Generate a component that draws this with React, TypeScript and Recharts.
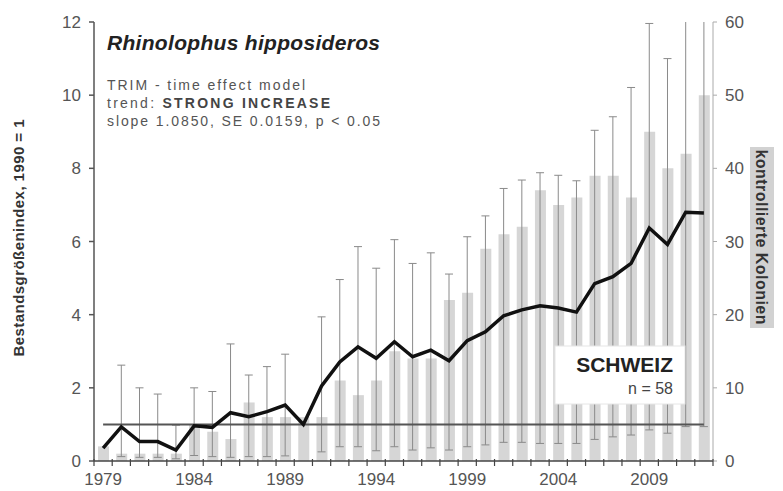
import {
  Bar,
  ComposedChart,
  ErrorBar,
  Line,
  ReferenceLine,
  XAxis,
  YAxis,
} from 'recharts';

// Jahre der Zählreihe
const years = [
  '1979', '1980', '1981', '1982', '1983', '1984', '1985', '1986', '1987', '1988',
  '1989', '1990', '1991', '1992', '1993', '1994', '1995', '1996', '1997', '1998',
  '1999', '2000', '2001', '2002', '2003', '2004', '2005', '2006', '2007', '2008',
  '2009', '2010', '2011', '2012',
];

// TRIM Bestandsgrößenindex (1990 = 1)
const indexValues = [
  0.35, 0.93, 0.53, 0.53, 0.3, 0.96, 0.92, 1.32, 1.21, 1.35,
  1.53, 1.0, 2.05, 2.71, 3.12, 2.81, 3.26, 2.85, 3.03, 2.74,
  3.29, 3.53, 3.97, 4.13, 4.24, 4.18, 4.07, 4.85, 5.04, 5.4,
  6.37, 5.92, 6.8, 6.78,
];

// Vertrauensgrenzen des Index (null = keine Angabe)
const indexLower = [
  null, 0.12, 0.1, 0.1, 0.06, 0.15, 0.12, 0.1, 0.12, 0.12,
  0.14, null, 0.25, 0.39, 0.39, 0.28, 0.39, 0.3, 0.36, 0.3,
  0.39, 0.44, 0.51, 0.51, 0.48, 0.48, 0.48, 0.59, 0.66, 0.71,
  0.85, 0.76, 0.94, 0.94,
];
const indexUpper = [
  null, 2.62, 2.0, 1.83, 0.98, 2.0, 1.9, 3.2, 2.35, 2.58,
  2.92, null, 3.94, 4.96, 5.86, 5.27, 6.05, 5.4, 5.69, 5.11,
  6.13, 6.7, 7.45, 7.68, 7.88, 7.81, 7.66, 9.04, 9.41, 10.21,
  11.96, 11.0, 13.5, 14.0,
];

// Anzahl kontrollierte Kolonien
const colonies = [
  2, 1, 1, 1, 1, 5, 4, 3, 8, 6,
  6, 6, 6, 11, 9, 11, 15, 14, 14, 22,
  23, 29, 31, 32, 37, 35, 36, 39, 39, 36,
  45, 40, 42, 50,
];

const labelledYears = ['1979', '1984', '1989', '1994', '1999', '2004', '2009'];
const indexTicks = [0, 2, 4, 6, 8, 10, 12];
const colonyTicks = [0, 10, 20, 30, 40, 50, 60];

const data = years.map((year, i) => {
  const lo = indexLower[i];
  const hi = indexUpper[i];
  return {
    year,
    index: indexValues[i],
    colonies: colonies[i],
    err: lo == null || hi == null ? null : [indexValues[i] - lo, hi - indexValues[i]],
  };
});

const FONT = '"Liberation Sans", Arial, sans-serif';
const TICK_SIZE = 5;
const TICK_GAP = 2;
const PLOT_TOP = 22;

function YearTick(props: any) {
  const { x, y, payload, index } = props;
  const half = payload.offset ?? 0;
  const axisY = y - TICK_SIZE - TICK_GAP;
  return (
    <g>
      {index === 0 && (
        <line x1={x - half} x2={x - half} y1={axisY - 2} y2={axisY + 5} stroke="#444" strokeWidth={1.2} />
      )}
      <line x1={x + half} x2={x + half} y1={axisY - 2} y2={axisY + 5} stroke="#444" strokeWidth={1.2} />
      {labelledYears.includes(payload.value) && (
        <text x={x} y={y} dy={17} textAnchor="middle" fill="#555" fontSize={17} fontFamily={FONT}>
          {payload.value}
        </text>
      )}
    </g>
  );
}

export default function App() {
  return (
    <div
      style={{
        position: 'absolute',
        left: 0,
        top: 0,
        width: 783,
        height: 491,
        background: '#fff',
        fontFamily: FONT,
      }}
    >
      <ComposedChart
        width={783}
        height={491}
        data={data}
        margin={{ top: PLOT_TOP, right: 0, bottom: 0, left: 0 }}
        barSize={11}
      >
        <XAxis
          dataKey="year"
          interval={0}
          height={30}
          tickLine={false}
          tickSize={TICK_SIZE}
          tickMargin={TICK_GAP}
          stroke="#444"
          strokeWidth={1.5}
          tick={<YearTick />}
        />
        <YAxis
          yAxisId="idx"
          width={94}
          domain={[0, 12]}
          ticks={indexTicks}
          allowDataOverflow
          stroke="#555"
          strokeWidth={1.5}
          tickSize={5}
          tickMargin={8}
          tick={{ fill: '#555', fontSize: 17, fontFamily: FONT }}
        />
        <YAxis
          yAxisId="col"
          orientation="right"
          width={70}
          domain={[0, 60]}
          ticks={colonyTicks}
          stroke="#aaa"
          tickSize={4}
          tickMargin={8}
          tick={{ fill: '#555', fontSize: 17, fontFamily: FONT }}
        />
        <Bar yAxisId="col" dataKey="colonies" fill="#d6d6d6" isAnimationActive={false} />
        <Line
          yAxisId="idx"
          dataKey="index"
          stroke="none"
          dot={false}
          activeDot={false}
          legendType="none"
          isAnimationActive={false}
        >
          <ErrorBar dataKey="err" width={4} stroke="#8a8a8a" strokeWidth={1} />
        </Line>
        <ReferenceLine
          yAxisId="idx"
          segment={[
            { x: '1979', y: 1 },
            { x: '2012', y: 1 },
          ]}
          stroke="#555"
          strokeWidth={2}
        />
        <Line
          yAxisId="idx"
          dataKey="index"
          stroke="#111"
          strokeWidth={3.5}
          dot={false}
          activeDot={false}
          isAnimationActive={false}
        />
      </ComposedChart>

      {/* Beschriftungen über dem Diagramm */}
      <svg
        width={783}
        height={491}
        style={{ position: 'absolute', left: 0, top: 0, pointerEvents: 'none' }}
        fontFamily={FONT}
      >
        {/* Fehlerbalken über 12 am oberen Rand abschneiden */}
        <rect x={95} y={0} width={616} height={PLOT_TOP} fill="#fff" />

        <text x={107} y={50} fontSize={21} fontWeight="bold" fontStyle="italic" fill="#222" textLength={273}>
          Rhinolophus hipposideros
        </text>
        <text x={107} y={90} fontSize={14} fill="#555" textLength={198}>
          TRIM - time effect model
        </text>
        <text x={107} y={108} fontSize={14} fill="#555" textLength={223}>
          trend: <tspan fontWeight="bold" fill="#444">STRONG INCREASE</tspan>
        </text>
        <text x={107} y={126} fontSize={14} fill="#555" textLength={273}>
          slope 1.0850, SE 0.0159, p &lt; 0.05
        </text>

        <rect x={555} y={346} width={130} height={58} fill="#fff" stroke="#e6e6e6" />
        <text x={673} y={372} textAnchor="end" fontSize={21} fontWeight="bold" fill="#222">
          SCHWEIZ
        </text>
        <text x={673} y={394} textAnchor="end" fontSize={16} fill="#444">
          n = 58
        </text>

        <text
          transform="translate(24,238) rotate(-90)"
          textAnchor="middle"
          fontSize={15}
          fontWeight="bold"
          fill="#333"
          textLength={237}
        >
          Bestandsgrößenindex, 1990 = 1
        </text>

        <rect x={750} y={147} width={24} height={181} fill="#d2d2d2" />
        <text
          transform="translate(756,237) rotate(90)"
          textAnchor="middle"
          fontSize={16}
          fontWeight="bold"
          fill="#333"
          textLength={175}
        >
          kontrollierte Kolonien
        </text>
      </svg>
    </div>
  );
}
